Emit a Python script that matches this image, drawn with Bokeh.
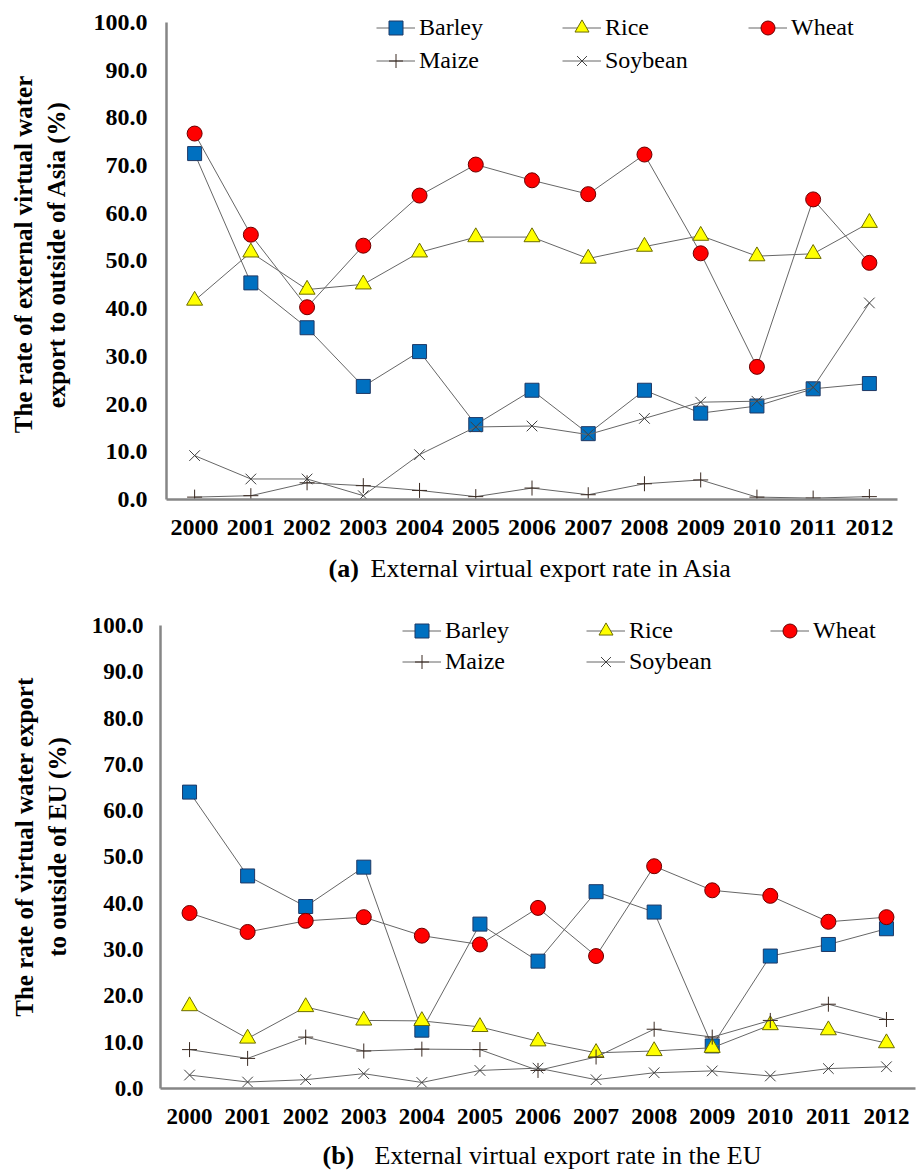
from bokeh.plotting import figure
from bokeh.models import (Range1d, FactorRange, FixedTicker, Legend, LegendItem,
                          Label, NumeralTickFormatter)
from bokeh.layouts import column
from bokeh.embed import file_html
from bokeh.resources import INLINE

years = ["2000", "2001", "2002", "2003", "2004", "2005", "2006",
         "2007", "2008", "2009", "2010", "2011", "2012"]
y_ticks = [0, 10, 20, 30, 40, 50, 60, 70, 80, 90, 100]

# (a) Asia
asia_barley = [72.5, 45.4, 36.0, 23.7, 31.0, 15.7, 22.9, 13.8, 22.9, 18.1, 19.6, 23.2, 24.3]
asia_rice = [41.7, 51.8, 44.0, 45.1, 51.8, 55.0, 55.0, 50.5, 53.0, 55.3, 51.0, 51.5, 58.0]
asia_wheat = [76.7, 55.5, 40.3, 53.2, 63.7, 70.2, 66.9, 64.0, 72.3, 51.6, 27.8, 62.9, 49.6]
asia_maize = [0.5, 0.8, 3.5, 2.9, 1.9, 0.6, 2.4, 1.0, 3.3, 4.1, 0.5, 0.3, 0.6]
asia_soybean = [9.2, 4.3, 4.3, 0.8, 9.4, 15.2, 15.4, 13.6, 17.0, 20.4, 20.6, 23.5, 41.2]

# (b) EU
eu_barley = [64.0, 45.9, 39.3, 47.8, 12.6, 35.5, 27.5, 42.5, 38.1, 9.2, 28.6, 31.1, 34.5]
eu_rice = [17.8, 10.8, 17.6, 14.7, 14.6, 13.3, 10.2, 7.7, 8.1, 8.8, 13.7, 12.6, 9.8]
eu_wheat = [37.9, 33.8, 36.2, 37.0, 33.0, 31.1, 39.0, 28.6, 48.0, 42.8, 41.6, 36.0, 37.0]
eu_maize = [8.4, 6.5, 11.1, 8.1, 8.5, 8.4, 3.9, 6.8, 12.8, 11.1, 14.7, 18.2, 14.9]
eu_soybean = [2.9, 1.4, 1.9, 3.2, 1.3, 3.9, 4.4, 1.9, 3.4, 3.8, 2.7, 4.3, 4.7]

FONT = "Liberation Serif"
LINE = "#666666"
WIDTH = 920

STYLES = {
    "Barley": dict(marker="square", size=14, fill_color="#0070C0", line_color="#1F3864"),
    "Rice": dict(marker="triangle", size=16, fill_color="#FFFF00", line_color="#6B6B00"),
    "Wheat": dict(marker="circle", size=15, fill_color="#FF0000", line_color="#6B0000"),
    "Maize": dict(marker="cross", size=15, fill_color=None, line_color="#3A2A22"),
    "Soybean": dict(marker="x", size=15, fill_color=None, line_color="#404040"),
}


def make_chart(series, height, left, right, top, bottom, y_end, ylabel,
               leg_x, leg_y1, leg_y2, leg_label_w, tick_standoff, title_standoff,
               tick_size):
    p = figure(width=WIDTH, height=height,
               x_range=FactorRange(*years), y_range=Range1d(0, y_end),
               output_backend="svg", toolbar_location=None,
               min_border_left=left, min_border_right=right,
               min_border_top=top, min_border_bottom=bottom)
    p.frame_align = False
    p.outline_line_color = None
    p.xgrid.visible = False
    p.ygrid.visible = False

    for ax in (p.xaxis[0], p.yaxis[0]):
        ax.axis_line_color = "#868686"
        ax.axis_line_width = 2.5
        ax.major_tick_line_color = None
        ax.minor_tick_line_color = None
        ax.major_label_text_font = FONT
        ax.major_label_text_font_style = "bold"
        ax.major_label_text_font_size = tick_size
        ax.major_label_text_color = "black"

    p.yaxis.bounds = (0, 100)
    p.yaxis.ticker = FixedTicker(ticks=y_ticks)
    p.yaxis.formatter = NumeralTickFormatter(format="0.0")
    p.yaxis.major_label_standoff = tick_standoff
    p.yaxis.axis_label = ylabel
    p.yaxis.axis_label_text_font = FONT
    p.yaxis.axis_label_text_font_style = "bold"
    p.yaxis.axis_label_text_font_size = "25px"
    p.yaxis.axis_label_text_color = "black"
    p.yaxis.axis_label_standoff = title_standoff
    p.xaxis.major_label_standoff = 14

    items = {}
    for name, vals in series:
        st = STYLES[name]
        ln = p.line(years, vals, line_color=LINE, line_width=1)
        sc = p.scatter(years, vals, marker=st["marker"], size=st["size"],
                       fill_color=st["fill_color"], line_color=st["line_color"],
                       line_width=1)
        items[name] = LegendItem(label=name, renderers=[ln, sc])

    common = dict(orientation="horizontal", glyph_width=39, glyph_height=35,
                  label_standoff=4, label_width=leg_label_w, label_height=35,
                  spacing=0, padding=0, margin=0, border_line_color=None,
                  background_fill_alpha=0, label_text_font=FONT,
                  label_text_font_size="24px", label_text_color="black")
    leg1 = Legend(items=[items["Barley"], items["Rice"], items["Wheat"]],
                  location=(leg_x, leg_y1), **common)
    leg2 = Legend(items=[items["Maize"], items["Soybean"]],
                  location=(leg_x, leg_y2), **common)
    p.add_layout(leg1)
    p.add_layout(leg2)
    return p


def caption_fig(height, tag, text, x1, x2, y):
    c = figure(width=WIDTH, height=height, x_range=Range1d(0, 1), y_range=Range1d(0, 1),
               output_backend="svg", toolbar_location=None,
               x_axis_type=None, y_axis_type=None, min_border=0)
    c.frame_align = False
    c.outline_line_color = None
    c.add_layout(Label(x=x1, y=y, x_units="screen", y_units="screen",
                       text=tag, text_font=FONT, text_font_style="bold",
                       text_font_size="26px", text_baseline="middle",
                       text_color="black"))
    c.add_layout(Label(x=x2, y=y, x_units="screen", y_units="screen",
                       text=text, text_font=FONT, text_font_size="26px",
                       text_baseline="middle", text_color="black"))
    return c


p1 = make_chart(
    [("Barley", asia_barley), ("Rice", asia_rice), ("Wheat", asia_wheat),
     ("Maize", asia_maize), ("Soybean", asia_soybean)],
    height=545, left=166, right=23, top=9, bottom=46, y_end=102.7,
    ylabel="The rate of external virtual water\nexport to outside of Asia (%)",
    leg_x=210, leg_y1=454, leg_y2=421, leg_label_w=143,
    tick_standoff=13, title_standoff=21, tick_size="24px")

cap1 = caption_fig(40, "(a)", "External virtual export rate in Asia", 328, 370, 17)

p2 = make_chart(
    [("Barley", eu_barley), ("Rice", eu_rice), ("Wheat", eu_wheat),
     ("Maize", eu_maize), ("Soybean", eu_soybean)],
    height=545, left=160, right=5, top=20, bottom=42, y_end=104.3,
    ylabel="The rate of virtual water export\nto outside of EU (%)",
    leg_x=242, leg_y1=440, leg_y2=409, leg_label_w=141,
    tick_standoff=11, title_standoff=18, tick_size="23px")

cap2 = caption_fig(42, "(b)", "External virtual export rate in the EU", 322, 374, 17)

layout = column(p1, cap1, p2, cap2, spacing=0)
open("out.html", "w").write(file_html(layout, INLINE))
